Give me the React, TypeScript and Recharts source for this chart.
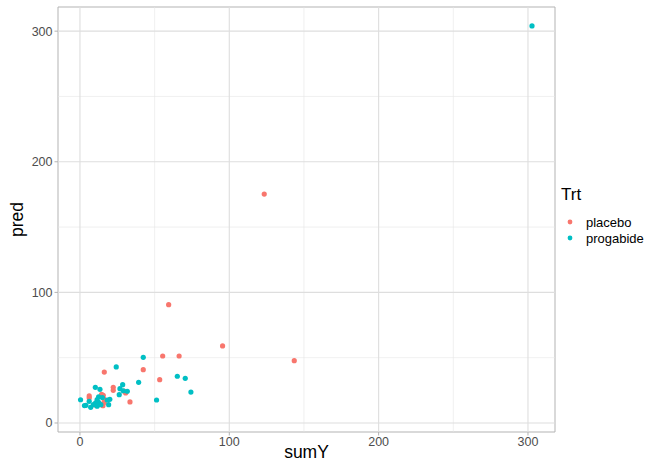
import React from "react";
import {
  ScatterChart,
  Scatter,
  XAxis,
  YAxis,
  ReferenceLine,
  ReferenceArea,
} from "recharts";

const placeboX = [95.5, 55.4, 66.4, 16.3, 42.4, 53.4, 33.5, 22.3, 22.3, 29.5, 30.6, 6.2, 6.2, 15.6, 14.5, 16.0, 10.3, 15.4, 14.0, 16.3, 123.4, 143.5, 59.4];
const placeboY = [59.0, 51.3, 51.3, 39.0, 40.8, 33.2, 16.1, 27.3, 25.0, 24.5, 23.0, 20.7, 19.2, 21.2, 22.0, 18.5, 13.8, 13.2, 14.5, 15.6, 175.3, 47.7, 90.6];

const progabideX = [302.7, 42.4, 24.3, 65.2, 70.5, 39.3, 74.3, 51.3, 28.6, 26.8, 31.7, 26.3, 0.4, 10.3, 13.4, 6.2, 12.5, 15.0, 11.5, 18.3, 20.0, 4.0, 3.0, 7.2, 11.5, 10.5, 12.5, 14.0, 19.2, 9.0, 29.0];
const progabideY = [304.0, 50.3, 42.9, 35.8, 34.2, 31.1, 23.7, 17.6, 29.3, 26.3, 24.3, 21.7, 17.8, 27.3, 25.8, 16.6, 20.1, 19.5, 18.0, 17.6, 18.1, 13.5, 13.3, 12.0, 12.8, 15.5, 15.8, 14.0, 14.0, 14.0, 24.7];

const xTicks = [0, 100, 200, 300];
const yTicks = [0, 100, 200, 300];
const xMinor = [50, 150, 250];
const yMinor = [50, 150, 250];

const X_DOMAIN: [number, number] = [-14.7, 318.1];
const Y_DOMAIN: [number, number] = [-6.9, 318.5];

const placebo = placeboX.map((x, i) => ({ x, y: placeboY[i] }));
const progabide = progabideX.map((x, i) => ({ x, y: progabideY[i] }));

const RED = "#F8766D";
const TEAL = "#00BFC4";
const FONT = "'Liberation Sans', Arial, sans-serif";

const LegendBox = () => (
  <div style={{ position: "absolute", left: 561, top: 185, fontFamily: FONT, color: "#000" }}>
    <div style={{ fontSize: 17, marginBottom: 9 }}>Trt</div>
    {[
      ["placebo", RED],
      ["progabide", TEAL],
    ].map(([label, color]) => (
      <div key={label} style={{ display: "flex", alignItems: "center", height: 16, fontSize: 13 }}>
        <svg width={20} height={16}>
          <circle cx={9} cy={8} r={2.4} fill={color} />
        </svg>
        <span style={{ marginLeft: 5 }}>{label}</span>
      </div>
    ))}
  </div>
);

export default function App() {
  return (
    <div style={{ position: "absolute", left: 0, top: 0, width: 664, height: 462, background: "#fff" }}>
      <ScatterChart
        width={664}
        height={462}
        margin={{ top: 7, right: 109, bottom: 0, left: 18 }}
      >
        <XAxis
          type="number"
          dataKey="x"
          domain={X_DOMAIN}
          ticks={xTicks}
          allowDataOverflow
          axisLine={false}
          tickLine={{ stroke: "#b3b3b3" }}
          tickSize={3.5}
          height={30}
          tick={{ fill: "#4d4d4d", fontSize: 12.5, fontFamily: FONT }}
          label={{ value: "sumY", position: "insideBottom", offset: 4, fill: "#000", fontSize: 17.5, fontFamily: FONT }}
        />
        <YAxis
          type="number"
          dataKey="y"
          domain={Y_DOMAIN}
          ticks={yTicks}
          allowDataOverflow
          axisLine={false}
          tickLine={{ stroke: "#b3b3b3" }}
          tickSize={3.5}
          width={40}
          tick={{ fill: "#4d4d4d", fontSize: 12.5, fontFamily: FONT }}
          label={{ value: "pred", angle: -90, position: "insideLeft", offset: 0, dx: -1, fill: "#000", fontSize: 17.5, fontFamily: FONT, style: { textAnchor: "middle" } }}
        />
        {xMinor.map((v) => (
          <ReferenceLine key={"xm" + v} x={v} stroke="#e5e5e5" strokeWidth={0.6} />
        ))}
        {yMinor.map((v) => (
          <ReferenceLine key={"ym" + v} y={v} stroke="#e5e5e5" strokeWidth={0.6} />
        ))}
        {xTicks.map((v) => (
          <ReferenceLine key={"x" + v} x={v} stroke="#dedede" strokeWidth={1.1} />
        ))}
        {yTicks.map((v) => (
          <ReferenceLine key={"y" + v} y={v} stroke="#dedede" strokeWidth={1.1} />
        ))}
        <ReferenceArea
          x1={X_DOMAIN[0]}
          x2={X_DOMAIN[1]}
          y1={Y_DOMAIN[0]}
          y2={Y_DOMAIN[1]}
          fill="none"
          fillOpacity={0}
          stroke="#b3b3b3"
          strokeWidth={1}
        />
        <Scatter
          name="placebo"
          data={placebo}
          fill={RED}
          isAnimationActive={false}
          shape={(p: any) => <circle cx={p.cx} cy={p.cy} r={2.6} fill={RED} />}
        />
        <Scatter
          name="progabide"
          data={progabide}
          fill={TEAL}
          isAnimationActive={false}
          shape={(p: any) => <circle cx={p.cx} cy={p.cy} r={2.6} fill={TEAL} />}
        />
      </ScatterChart>
      <LegendBox />
    </div>
  );
}
